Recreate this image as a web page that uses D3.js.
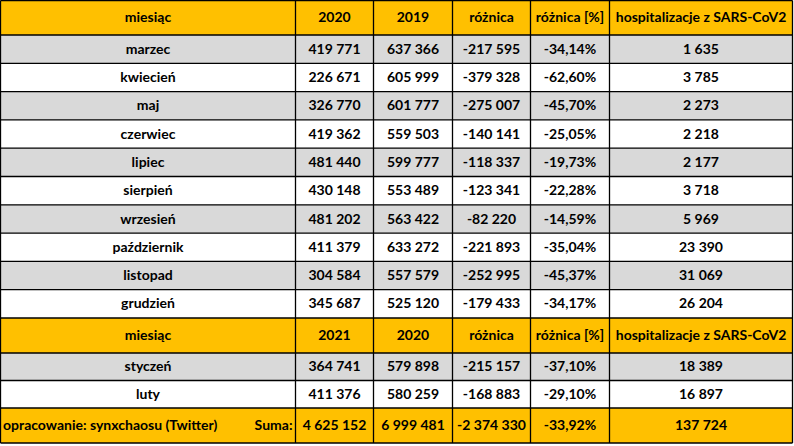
<!DOCTYPE html>
<html><head><meta charset="utf-8">
<script src="https://cdn.jsdelivr.net/npm/d3@7"></script>
<style>html,body{margin:0;padding:0;background:#fff;}svg{display:block;}</style>
</head><body><svg id="c" width="794" height="446"></svg>
<script>
const header1 = ["miesiąc", "2020", "2019", "różnica", "różnica [%]", "hospitalizacje z SARS-CoV2"];
const header2 = ["miesiąc", "2021", "2020", "różnica", "różnica [%]", "hospitalizacje z SARS-CoV2"];
const months1 = ["marzec","kwiecień","maj","czerwiec","lipiec","sierpień","wrzesień","październik","listopad","grudzień"];
const cur1 = [419771,226671,326770,419362,481440,430148,481202,411379,304584,345687];
const prev1 = [637366,605999,601777,559503,599777,553489,563422,633272,557579,525120];
const diff1 = [-217595,-379328,-275007,-140141,-118337,-123341,-82220,-221893,-252995,-179433];
const pct1 = [-34.14,-62.60,-45.70,-25.05,-19.73,-22.28,-14.59,-35.04,-45.37,-34.17];
const hosp1 = [1635,3785,2273,2218,2177,3718,5969,23390,31069,26204];
const months2 = ["styczeń","luty"];
const cur2 = [364741,411376];
const prev2 = [579898,580259];
const diff2 = [-215157,-168883];
const pct2 = [-37.10,-29.10];
const hosp2 = [18389,16897];
const footerNote = "opracowanie: synxchaosu (Twitter)";
const sumLabel = "Suma:";
const sums = [4625152, 6999481, -2374330, -33.92, 137724];

const loc = d3.formatLocale({decimal:",", thousands:"\u00a0", grouping:[3], currency:["",""], minus:"-"});
const fInt = loc.format(",d");
const fPct = v => loc.format(",.2f")(v) + "%";

const YELLOW = "#FFC000", GREY = "#D9D9D9", WHITE = "#FFFFFF";
const colEdges = [0.5, 295.5, 373.5, 452.5, 530.5, 609.5, 792.5];

const rows = [];
rows.push({type:"head", cells: header1, fill: YELLOW, h: 34.5});
months1.forEach((m,i) => rows.push({type:"data", cells:[m, fInt(cur1[i]), fInt(prev1[i]), fInt(diff1[i]), fPct(pct1[i]), fInt(hosp1[i])], fill: i%2===0?GREY:WHITE, h: 28.3}));
rows.push({type:"head", cells: header2, fill: YELLOW, h: 35});
months2.forEach((m,i) => rows.push({type:"data", cells:[m, fInt(cur2[i]), fInt(prev2[i]), fInt(diff2[i]), fPct(pct2[i]), fInt(hosp2[i])], fill: i%2===0?GREY:WHITE, h: 27.5}));
rows.push({type:"foot", cells:["", fInt(sums[0]), fInt(sums[1]), fInt(sums[2]), fPct(sums[3]), fInt(sums[4])], fill: YELLOW, h: 35});

let y = 0.5;
rows.forEach(r => { r.y0 = y; y += r.h; r.y1 = y; });

const svg = d3.select("#c");
const font = "Lato, 'Open Sans', sans-serif";
const FS = 14;

const g = svg.selectAll("g.row").data(rows).join("g").attr("class","row");
g.append("rect")
  .attr("x", colEdges[0]).attr("y", d => d.y0)
  .attr("width", colEdges[6]-colEdges[0]).attr("height", d => d.y1-d.y0)
  .attr("fill", d => d.fill);

g.each(function(r){
  const sel = d3.select(this);
  r.cells.forEach((t,ci) => {
    if (t === "") return;
    sel.append("text")
      .attr("x", (colEdges[ci]+colEdges[ci+1])/2)
      .attr("y", (r.y0+r.y1)/2 + 1)
      .attr("text-anchor","middle").attr("dominant-baseline","middle")
      .attr("font-family", font).attr("font-weight","bold").attr("font-size", FS)
      .attr("fill","#000").text(t);
  });
  if (r.type === "foot") {
    sel.append("text").attr("x", 3).attr("y", (r.y0+r.y1)/2+1)
      .attr("dominant-baseline","middle").attr("font-family", font).attr("font-weight","bold").attr("font-size",FS)
      .attr("fill","#000").text(footerNote);
    sel.append("text").attr("x", colEdges[1]-3).attr("y", (r.y0+r.y1)/2+1)
      .attr("text-anchor","end").attr("dominant-baseline","middle").attr("font-family", font).attr("font-weight","bold").attr("font-size",FS)
      .attr("fill","#000").text(sumLabel);
  }
});

const lines = svg.append("g").attr("stroke","#000").attr("stroke-width",1.3);
rows.forEach(r => {
  lines.append("line").attr("x1", colEdges[0]).attr("x2", colEdges[6]).attr("y1", r.y0).attr("y2", r.y0);
});
lines.append("line").attr("x1", colEdges[0]).attr("x2", colEdges[6]).attr("y1", y).attr("y2", y);
colEdges.forEach(x => {
  lines.append("line").attr("x1", x).attr("x2", x).attr("y1", rows[0].y0).attr("y2", y);
});
</script></body></html>
